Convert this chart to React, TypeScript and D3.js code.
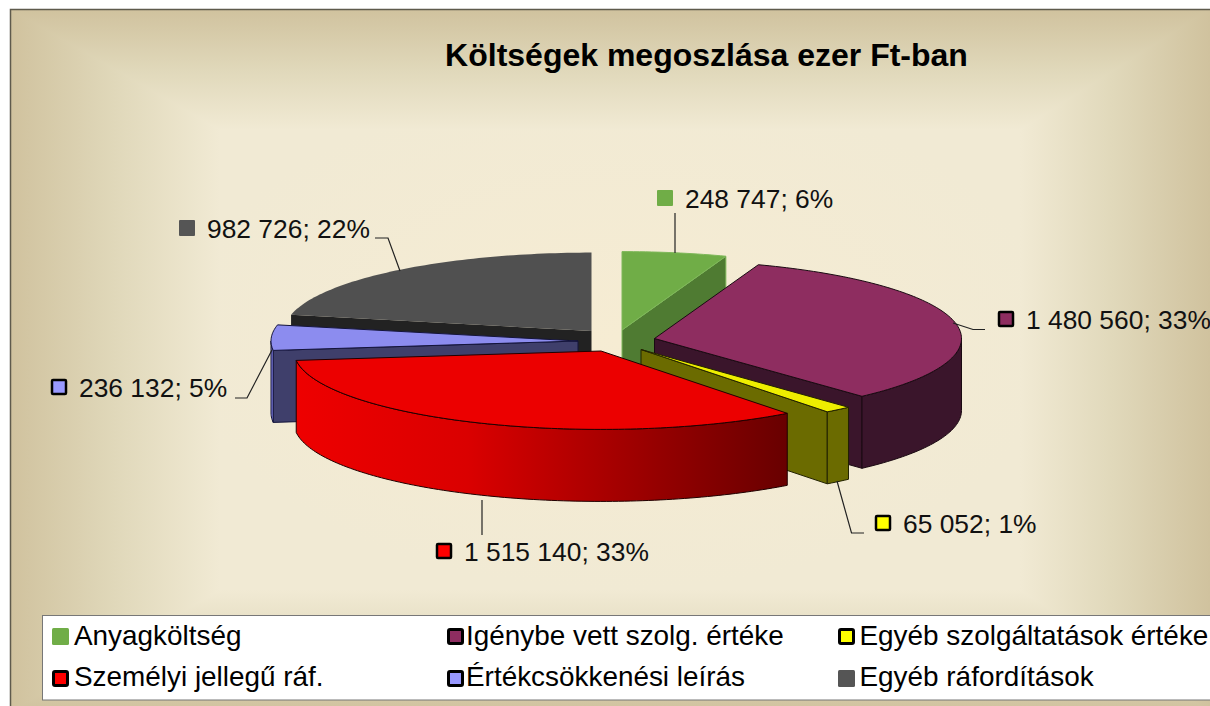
import React from "react";
import * as d3 from "d3";

const W = 1210, H = 706;
const categories = ["Anyagköltség", "Igénybe vett szolg. értéke", "Egyéb szolgáltatások értéke", "Személyi jellegű ráf.", "Értékcsökkenési leírás", "Egyéb ráfordítások"];
const values = [248747, 1480560, 65052, 1515140, 236132, 982726];
const percents = [6, 33, 1, 33, 5, 22];
const topColors = ["#70AD47", "#8E2D60", "#EEEE00", "#EC0000", "#8C8CEF", "#505050"];
const keyColors = ["#70AD47", "#8E2D60", "#FFFF00", "#FF0000", "#9999FF", "#555555"];
const faceColors = ["#4F7B32", "#3A152B", "#6B6B00", "#A00000", "#3F3F6B", "#222222"];
const wallColors = ["#4F7B32", "#3A152B", "#6B6B00", "url(#redWall)", "#7878D8", "#222222"];
const strokes = ["#7FB85A", "#1a0a12", "#222200", "#200000", "#14143a", "none"];

// layout
const RX = 307, RY = 78.4, DEPTH = 72;
const apexX = [622, 654.5, 641, 601, 578, 591.5];
const apexY = [330, 338.5, 349.5, 351, 341, 331];
const drawOrder = [0, 5, 4, 1, 2, 3];
const keyX = [658, 999, 876, 437, 52, 180];
const keyY = [191, 312, 516, 544, 380, 221];
const leaders = [
  [[675, 253], [675, 213]],
  [[953, 323], [973, 329.5], [985, 329.5]],
  [[837, 481], [851.5, 533], [864, 533]],
  [[482, 500], [482, 535]],
  [[272, 350], [247, 398], [235, 398]],
  [[400, 271], [388, 238], [375, 238]],
];
const legendCols = [52, 447, 838];
const legendTextX = [74, 466, 859.5];
const legendKeyY = [628, 670];
const legendBaseline = [645, 686];

const fmt = (v: number) => d3.format(",")(v).replace(/,/g, " ");
const pieArcs = d3.pie<number>().sort(null).startAngle(0).endAngle(2 * Math.PI)(values);
const lineGen = d3.line<number[]>().x(d => d[0]).y(d => d[1]);

function rim(i: number, a: number, dz = 0) {
  return [apexX[i] + RX * Math.sin(a), apexY[i] - RY * Math.cos(a) + dz];
}
function sampled(a0: number, a1: number) {
  const n = Math.max(2, Math.ceil(Math.abs(a1 - a0) / 0.02));
  return d3.range(n + 1).map(k => a0 + ((a1 - a0) * k) / n);
}
function topPath(i: number, a0: number, a1: number) {
  return lineGen([[apexX[i], apexY[i]], ...sampled(a0, a1).map(a => rim(i, a))]) + "Z";
}
function facePath(i: number, a: number) {
  return lineGen([[apexX[i], apexY[i]], rim(i, a), rim(i, a, DEPTH), [apexX[i], apexY[i] + DEPTH]]) + "Z";
}
function wallPath(i: number, a0: number, a1: number) {
  const lo = Math.max(a0, Math.PI / 2), hi = Math.min(a1, (3 * Math.PI) / 2);
  if (hi <= lo) return null;
  const s = sampled(lo, hi);
  return lineGen([...s.map(a => rim(i, a)), ...s.slice().reverse().map(a => rim(i, a, DEPTH))]) + "Z";
}

// rectangular "path" background gradient
const B = { x0: 10, y0: 9, x1: 1210, y1: 712 };
const P = { x0: 220, y0: 130, x1: 1020, y1: 590 };
const bgStops = [[0, "#D0C29E"], [0.5, "#E0D8BA"], [1, "#F1EAD4"]];

function Background() {
  const sides = [
    { id: "bgT", g: [0, B.y0, 0, P.y0], pts: [[B.x0, B.y0], [B.x1, B.y0], [P.x1, P.y0], [P.x0, P.y0]] },
    { id: "bgB", g: [0, B.y1, 0, P.y1], pts: [[B.x0, B.y1], [B.x1, B.y1], [P.x1, P.y1], [P.x0, P.y1]] },
    { id: "bgL", g: [B.x0, 0, P.x0, 0], pts: [[B.x0, B.y0], [B.x0, B.y1], [P.x0, P.y1], [P.x0, P.y0]] },
    { id: "bgR", g: [B.x1, 0, P.x1, 0], pts: [[B.x1, B.y0], [B.x1, B.y1], [P.x1, P.y1], [P.x1, P.y0]] },
  ];
  return (
    <g shapeRendering="crispEdges">
      <defs>
        {sides.map(s => (
          <linearGradient key={s.id} id={s.id} gradientUnits="userSpaceOnUse" x1={s.g[0]} y1={s.g[1]} x2={s.g[2]} y2={s.g[3]}>
            {bgStops.map(st => <stop key={st[0]} offset={st[0] as number} stopColor={st[1] as string} />)}
          </linearGradient>
        ))}
        <radialGradient id="bgC" cx="0.5" cy="0.45" r="0.55">
          <stop offset="0" stopColor="#F6ECD3" />
          <stop offset="1" stopColor="#F1EAD4" />
        </radialGradient>
      </defs>
      <rect x={P.x0} y={P.y0} width={P.x1 - P.x0} height={P.y1 - P.y0} fill="url(#bgC)" />
      {sides.map(s => <path key={s.id} d={lineGen(s.pts) + "Z"} fill={`url(#${s.id})`} />)}
    </g>
  );
}

const font = "'Liberation Sans', Arial, sans-serif";

export default function App() {
  return (
    <svg width={W} height={H} viewBox={`0 0 ${W} ${H}`} style={{ position: "absolute", left: 0, top: 0, display: "block" }} fontFamily={font}>
      <defs>
        <linearGradient id="redWall" x1="0" x2="1" y1="0" y2="0">
          <stop offset="0" stopColor="#EE0000" />
          <stop offset="0.35" stopColor="#DA0000" />
          <stop offset="0.75" stopColor="#930000" />
          <stop offset="1" stopColor="#680000" />
        </linearGradient>
      </defs>
      <rect width={W} height={H} fill="#fff" />
      <Background />
      <path d={`M10.5 ${H}V9.5H${W}`} fill="none" stroke="#5E5A4C" strokeWidth={1.5} />
      <text x={706.5} y={66} textAnchor="middle" fontSize={32} fontWeight="bold" fill="#000">Költségek megoszlása ezer Ft-ban</text>

      {drawOrder.map(i => {
        const { startAngle: a0, endAngle: a1 } = pieArcs[i];
        const w = wallPath(i, a0, a1);
        const sw = 1;
        const st = strokes[i];
        return (
          <g key={i} strokeLinejoin="round">
            {Math.sin(a0) < -1e-6 && <path d={facePath(i, a0)} fill={faceColors[i]} stroke={st} strokeWidth={sw} />}
            {Math.sin(a1) > 1e-6 && <path d={facePath(i, a1)} fill={faceColors[i]} stroke={st} strokeWidth={sw} />}
            {w && <path d={w} fill={wallColors[i]} stroke={st} strokeWidth={sw} />}
            <path d={topPath(i, a0, a1)} fill={topColors[i]} stroke={st} strokeWidth={sw} />
          </g>
        );
      })}

      {leaders.map((pts, i) => <path key={i} d={lineGen(pts) as string} fill="none" stroke="#222" strokeWidth={1.2} />)}

      {values.map((v, i) => {
        const outlined = i !== 0 && i !== 5;
        return (
          <g key={i}>
            <rect x={outlined ? keyX[i] : keyX[i] - 1} y={outlined ? keyY[i] : keyY[i] - 1} width={outlined ? 14 : 16} height={outlined ? 14 : 16} rx={1} fill={keyColors[i]} stroke={outlined ? "#000" : "none"} strokeWidth={outlined ? 2.5 : 0} />
            <text x={keyX[i] + 27} y={keyY[i] + 17} fontSize={26.4} fill="#111">{`${fmt(v)}; ${percents[i]}%`}</text>
          </g>
        );
      })}

      <rect x={42.5} y={615.5} width={W} height={84.5} fill="#fff" stroke="#777" strokeWidth={1} />
      {categories.map((c, i) => {
        const col = legendCols[i % 3], row = Math.floor(i / 3);
        const outlined = i !== 0 && i !== 5;
        return (
          <g key={c}>
            <rect x={col + (outlined ? 1.5 : 0)} y={legendKeyY[row] + (outlined ? 1.5 : 0)} width={outlined ? 14 : 17} height={outlined ? 14 : 17} rx={1.5} fill={keyColors[i]} stroke={outlined ? "#000" : "none"} strokeWidth={outlined ? 3 : 0} />
            <text x={legendTextX[i % 3]} y={legendBaseline[row]} fontSize={27.9} fill="#000">{c}</text>
          </g>
        );
      })}
    </svg>
  );
}
